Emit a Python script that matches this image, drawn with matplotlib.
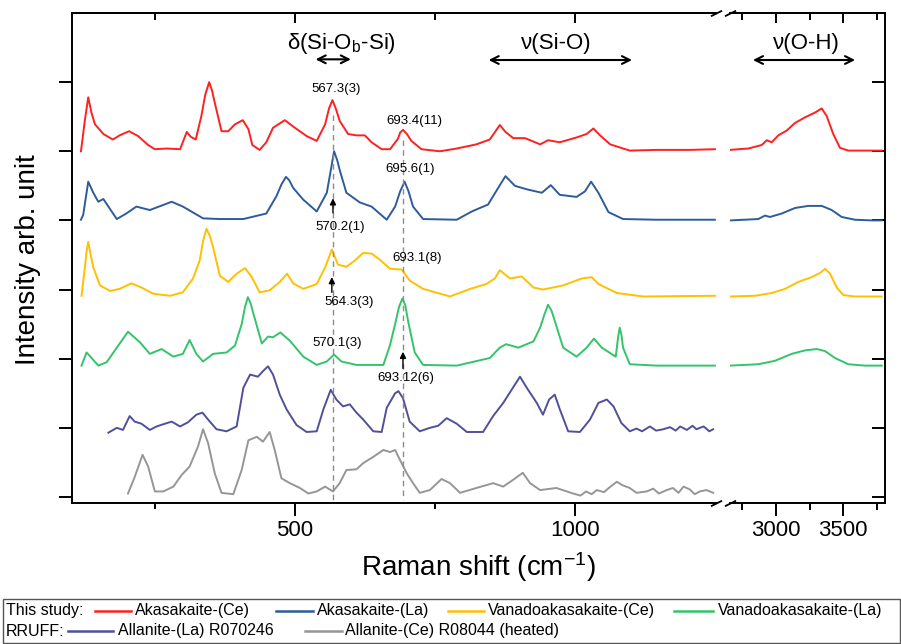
import matplotlib.pyplot as plt
from matplotlib.patches import Rectangle
from matplotlib.lines import Line2D

plt.rcParams['font.family'] = ['Liberation Sans', 'DejaVu Sans']
plt.rcParams['mathtext.default'] = 'regular'

names = ['Akasakaite-(Ce)', 'Akasakaite-(La)', 'Vanadoakasakaite-(Ce)',
         'Vanadoakasakaite-(La)', 'Allanite-(La) R070246', 'Allanite-(Ce) R08044 (heated)']
colors = ['#ff2020', '#2e5c9a', '#ffc000', '#33c46a', '#50509a', '#969696']
offsets = [5.0, 4.0, 2.9, 1.9, 0.93, 0.0]

# low wavenumber part (cm-1), normalised intensity
red_x = [118, 125, 131, 137, 143, 158, 175, 187, 204, 220, 238, 250, 271, 295, 307, 314, 323, 333, 340, 347,
         352, 357, 369, 381, 393, 407, 417, 424, 437, 449, 461, 482, 500, 521, 539, 554, 561, 567, 573, 580,
         595, 610, 625, 637, 655, 670, 684, 688, 693, 700, 708, 726, 759, 789, 824, 848, 866, 876, 890, 911,
         938, 952, 973, 1003, 1021, 1033, 1045, 1063, 1098, 1146, 1205, 1250]
red_y = [0.00, 0.45, 0.78, 0.55, 0.39, 0.25, 0.17, 0.23, 0.29, 0.22, 0.09, 0.03, 0.04, 0.03, 0.28, 0.21, 0.17,
         0.51, 0.82, 1.00, 0.88, 0.70, 0.29, 0.29, 0.39, 0.45, 0.32, 0.09, 0.02, 0.13, 0.34, 0.45, 0.34, 0.22,
         0.15, 0.39, 0.62, 0.74, 0.62, 0.44, 0.25, 0.23, 0.23, 0.13, 0.03, 0.03, 0.18, 0.27, 0.31, 0.25, 0.15,
         0.03, 0.00, 0.04, 0.10, 0.17, 0.38, 0.28, 0.19, 0.19, 0.10, 0.16, 0.13, 0.20, 0.25, 0.33, 0.23, 0.10,
         0.01, 0.02, 0.02, 0.03]

blue_x = [118, 122, 131, 140, 149, 158, 167, 182, 199, 217, 241, 280, 300, 336, 366, 408, 449, 467, 476, 484,
          490, 497, 515, 539, 557, 564, 570, 576, 580, 592, 616, 637, 664, 679, 688, 696, 703, 711, 729, 789,
          816, 845, 863, 876, 893, 914, 941, 957, 973, 1003, 1018, 1029, 1042, 1060, 1086, 1146, 1250]
blue_y = [0.01, 0.08, 0.56, 0.40, 0.27, 0.31, 0.20, 0.02, 0.10, 0.20, 0.15, 0.27, 0.20, 0.03, 0.02, 0.02, 0.10,
          0.35, 0.52, 0.63, 0.58, 0.47, 0.30, 0.13, 0.40, 0.72, 1.00, 0.86, 0.73, 0.40, 0.26, 0.20, 0.01, 0.20,
          0.42, 0.56, 0.42, 0.20, 0.02, 0.01, 0.13, 0.23, 0.47, 0.64, 0.50, 0.45, 0.40, 0.51, 0.37, 0.34, 0.42,
          0.56, 0.40, 0.12, 0.02, 0.01, 0.01]

yellow_x = [119, 125, 128, 131, 135, 140, 152, 170, 187, 208, 226, 247, 277, 300, 318, 330, 336, 342, 348, 354,
            366, 381, 396, 411, 423, 437, 455, 473, 486, 497, 515, 539, 554, 566, 577, 592, 607, 622, 637, 652,
            670, 691, 705, 729, 777, 813, 842, 857, 866, 884, 905, 926, 943, 979, 1012, 1030, 1042, 1075, 1122,
            1250]
yellow_y = [0.01, 0.42, 0.65, 0.79, 0.62, 0.42, 0.16, 0.08, 0.11, 0.19, 0.13, 0.04, 0.01, 0.06, 0.26, 0.52,
            0.80, 0.98, 0.88, 0.71, 0.30, 0.21, 0.33, 0.41, 0.28, 0.06, 0.09, 0.21, 0.33, 0.19, 0.11, 0.18,
            0.42, 0.68, 0.46, 0.43, 0.52, 0.63, 0.62, 0.53, 0.40, 0.39, 0.23, 0.11, 0.00, 0.11, 0.18, 0.26,
            0.38, 0.26, 0.29, 0.13, 0.10, 0.16, 0.26, 0.28, 0.18, 0.05, 0.00, 0.01]

green_x = [119, 128, 137, 149, 164, 182, 202, 223, 241, 262, 283, 300, 312, 324, 336, 354, 378, 393, 405, 411,
           416, 421, 426, 441, 452, 461, 474, 491, 515, 539, 557, 570, 583, 610, 658, 670, 679, 686, 692, 697,
           702, 714, 729, 789, 848, 866, 877, 899, 926, 938, 946, 952, 958, 964, 979, 1003, 1021, 1034, 1048,
           1073, 1077, 1080, 1083, 1086, 1098, 1146, 1250]
green_y = [0.00, 0.19, 0.11, 0.00, 0.05, 0.26, 0.49, 0.34, 0.17, 0.24, 0.13, 0.17, 0.37, 0.17, 0.06, 0.17,
           0.19, 0.29, 0.60, 0.85, 0.99, 0.90, 0.75, 0.32, 0.42, 0.41, 0.48, 0.36, 0.13, 0.01, 0.06, 0.16,
           0.06, 0.01, 0.01, 0.30, 0.60, 0.85, 0.97, 0.88, 0.65, 0.19, 0.01, 0.00, 0.11, 0.26, 0.31, 0.26,
           0.35, 0.55, 0.75, 0.88, 0.80, 0.65, 0.26, 0.13, 0.26, 0.39, 0.26, 0.13, 0.40, 0.55, 0.45, 0.26,
           0.02, 0.00, 0.00]

purple_x = [167, 182, 193, 205, 214, 226, 241, 253, 268, 280, 295, 309, 324, 335, 345, 360, 378, 396, 408, 420,
            434, 443, 452, 461, 473, 485, 503, 521, 539, 551, 564, 574, 586, 598, 610, 622, 640, 655, 664, 679,
            685, 693, 705, 723, 741, 756, 771, 789, 807, 836, 854, 872, 887, 902, 914, 932, 943, 954, 964, 973,
            988, 1009, 1027, 1042, 1057, 1069, 1083, 1098, 1110, 1120, 1134, 1145, 1158, 1170, 1180, 1188, 1200,
            1210, 1217, 1230, 1240, 1247]
purple_y = [0.00, 0.07, 0.04, 0.24, 0.16, 0.13, 0.04, 0.09, 0.13, 0.16, 0.09, 0.15, 0.26, 0.29, 0.19, 0.05,
            0.02, 0.09, 0.65, 0.84, 0.81, 0.89, 0.96, 0.84, 0.55, 0.34, 0.11, 0.01, 0.02, 0.34, 0.62, 0.48,
            0.38, 0.41, 0.29, 0.19, 0.02, 0.01, 0.36, 0.57, 0.60, 0.50, 0.16, 0.02, 0.07, 0.10, 0.21, 0.13,
            0.01, 0.01, 0.24, 0.43, 0.62, 0.81, 0.65, 0.43, 0.26, 0.48, 0.55, 0.34, 0.02, 0.01, 0.19, 0.43,
            0.48, 0.38, 0.14, 0.02, 0.06, 0.02, 0.09, 0.03, 0.05, 0.08, 0.03, 0.09, 0.04, 0.10, 0.05, 0.09,
            0.02, 0.05]

gray_x = [202, 214, 228, 238, 250, 265, 283, 298, 312, 327, 336, 345, 357, 369, 390, 405, 417, 432, 443, 455,
          464, 476, 491, 509, 524, 539, 554, 568, 580, 592, 610, 622, 640, 658, 670, 679, 688, 700, 711, 723,
          741, 762, 777, 795, 824, 854, 872, 890, 907, 920, 938, 967, 997, 1010, 1020, 1030, 1039, 1052, 1062,
          1075, 1085, 1098, 1110, 1128, 1140, 1150, 1164, 1175, 1185, 1194, 1205, 1214, 1223, 1235, 1247]
gray_y = [0.05, 0.29, 0.61, 0.44, 0.08, 0.08, 0.15, 0.32, 0.44, 0.73, 0.98, 0.78, 0.34, 0.06, 0.04, 0.39,
          0.82, 0.87, 0.80, 0.94, 0.68, 0.27, 0.20, 0.13, 0.05, 0.08, 0.15, 0.08, 0.20, 0.39, 0.40, 0.49,
          0.58, 0.68, 0.65, 0.68, 0.53, 0.34, 0.20, 0.06, 0.10, 0.26, 0.20, 0.06, 0.13, 0.20, 0.15, 0.25,
          0.35, 0.20, 0.10, 0.13, 0.05, 0.02, 0.08, 0.04, 0.10, 0.07, 0.14, 0.22, 0.17, 0.13, 0.06, 0.08,
          0.12, 0.05, 0.10, 0.13, 0.06, 0.15, 0.11, 0.04, 0.08, 0.10, 0.06]

# O-H stretching part (only this study)
red_oh_x = [2657, 2793, 2893, 2931, 2968, 3017, 3080, 3142, 3216, 3291, 3341, 3378, 3427, 3477, 3539, 3789]
red_oh_y = [0.02, 0.04, 0.09, 0.16, 0.13, 0.23, 0.30, 0.41, 0.49, 0.56, 0.62, 0.51, 0.25, 0.05, 0.01, 0.01]
blue_oh_x = [2657, 2868, 2918, 2955, 3043, 3142, 3241, 3341, 3416, 3490, 3589, 3714, 3789]
blue_oh_y = [0.00, 0.02, 0.07, 0.05, 0.10, 0.18, 0.21, 0.21, 0.15, 0.05, 0.01, 0.00, 0.00]
yellow_oh_x = [2657, 2843, 2968, 3067, 3166, 3266, 3328, 3366, 3403, 3453, 3502, 3589, 3789]
yellow_oh_y = [0.00, 0.01, 0.05, 0.11, 0.21, 0.28, 0.34, 0.40, 0.33, 0.13, 0.02, 0.00, 0.00]
green_oh_x = [2657, 2868, 2993, 3117, 3216, 3304, 3366, 3440, 3539, 3664, 3789]
green_oh_y = [0.00, 0.02, 0.07, 0.17, 0.22, 0.24, 0.21, 0.11, 0.02, 0.00, 0.00]

low = [(red_x, red_y), (blue_x, blue_y), (yellow_x, yellow_y), (green_x, green_y),
       (purple_x, purple_y), (gray_x, gray_y)]
high = [(red_oh_x, red_oh_y), (blue_oh_x, blue_oh_y), (yellow_oh_x, yellow_oh_y), (green_oh_x, green_oh_y)]

# peak labels: (text, x, y) and small arrows (x, y from, y to)
peak_labels = [('567.3(3)', 573, 5.90), ('693.4(11)', 713, 5.44), ('695.6(1)', 705, 4.74),
               ('570.2(1)', 580, 3.90), ('693.1(8)', 718, 3.46), ('564.3(3)', 596, 2.82),
               ('570.1(3)', 575, 2.23), ('693.12(6)', 698, 1.72)]
peak_arrows = [(568, 4.11, 4.32), (566, 2.96, 3.18), (693, 1.86, 2.10)]
dashed = [(567.3, 5.52), (693.4, 5.16)]

W, H = 901, 644
fig = plt.figure(figsize=(W / 100, H / 100), dpi=100)


def box(x0, x1, y0, y1):
    return [x0 / W, 1 - y1 / H, (x1 - x0) / W, (y1 - y0) / H]


ax1 = fig.add_axes(box(72, 716, 13, 503))
ax2 = fig.add_axes(box(730, 885, 13, 503))

for (x, y), c, off in zip(low, colors, offsets):
    ax1.plot(x, [v + off for v in y], color=c, lw=1.4, solid_joinstyle='round')
for (x, y), c, off in zip(high, colors, offsets):
    ax2.plot(x, [v + off for v in y], color=c, lw=1.4, solid_joinstyle='round')

for xd, ytop in dashed:
    ax1.plot([xd, xd], [ytop, -0.04], ls=(0, (4, 3)), color='#8c8c8c', lw=1)

for t, x, y in peak_labels:
    ax1.text(x, y, t, ha='center', va='center', fontsize=9.5)
for x, y0, y1 in peak_arrows:
    ax1.annotate('', xy=(x, y1), xytext=(x, y0),
                 arrowprops=dict(arrowstyle='-|>', color='k', lw=1, mutation_scale=9,
                                 shrinkA=0, shrinkB=0))

for ax in (ax1, ax2):
    ax.set_ylim(-0.087, 7.0)
    ax.set_yticks(range(7))
    for s in ax.spines.values():
        s.set_linewidth(1.4)

ax1.set_xlim(102, 1252)
ax2.set_xlim(2657, 3813)
ax1.spines['right'].set_visible(False)
ax2.spines['left'].set_visible(False)

ax1.set_xticks([500, 1000])
ax1.set_xticks([250, 750], minor=True)
ax2.set_xticks([3000, 3500])
ax2.set_xticks([2750, 3250, 3750], minor=True)
for ax in (ax1, ax2):
    ax.tick_params(axis='x', which='major', direction='out', length=9.4, width=1.4, labelsize=16, pad=3)
    ax.tick_params(axis='x', which='minor', direction='out', length=4, width=1.4)
    top = ax.secondary_xaxis('top')
    top.set_xticks(ax.get_xticks())
    top.set_xticks(ax.get_xticks(minor=True), minor=True)
    top.tick_params(which='major', direction='in', length=7, width=1.4, labeltop=False)
    top.tick_params(which='minor', direction='in', length=5, width=1.4)
    top.spines['top'].set_linewidth(1.4)
ax1.tick_params(axis='y', direction='out', length=9.4, width=1.4, labelleft=False)
ax2.tick_params(axis='y', left=False, right=True, direction='in', length=9.4, width=1.4,
                labelleft=False, labelright=False)
ax2.tick_params(axis='x', which='minor', length=5)

# axis break marks
brk = dict(marker=[(-1, -0.5), (1, 0.5)], markersize=8, linestyle='none', color='k',
           mec='k', mew=1.3, clip_on=False)
ax1.plot([1, 1], [0, 1], transform=ax1.transAxes, **brk)
ax2.plot([0, 0], [0, 1], transform=ax2.transAxes, **brk)

# band assignments
arr = dict(arrowstyle='<->', color='k', lw=1.5, mutation_scale=14, shrinkA=0, shrinkB=0)
ax1.text(584, 6.56, 'δ(Si-O$_b$-Si)', ha='center', va='center', fontsize=16)
ax1.annotate('', xy=(537, 6.33), xytext=(600, 6.33), arrowprops=arr)
ax1.text(966, 6.56, 'ν(Si-O)', ha='center', va='center', fontsize=16)
ax1.annotate('', xy=(846, 6.32), xytext=(1102, 6.32), arrowprops=arr)
ax2.text(3224, 6.56, 'ν(O-H)', ha='center', va='center', fontsize=16)
ax2.annotate('', xy=(2828, 6.32), xytext=(3590, 6.32), arrowprops=arr)

fig.text(478 / W, 1 - 567 / H, 'Raman shift (cm$^{-1}$)', ha='center', va='center', fontsize=20)
fig.text(28 / W, 1 - 260 / H, 'Intensity arb. unit', ha='center', va='center', rotation=90, fontsize=20)

# legend box drawn by hand, two rows
fig.add_artist(Rectangle((3 / W, 1 / H), 897 / W, 44 / H, transform=fig.transFigure,
                         fill=False, lw=1, ec='#555555'))
rows = [(611, 'This study:', [(95, 131, 135, 0), (276, 313, 317, 1), (448, 484, 488, 2), (674, 713, 718, 3)]),
        (631, 'RRUFF:', [(68, 113, 118, 4), (305, 342, 345, 5)])]
for py, head, entries in rows:
    yf = 1 - py / H
    fig.text(6 / W, yf, head, ha='left', va='center', fontsize=11.5)
    for l0, l1, tx, i in entries:
        fig.add_artist(Line2D([l0 / W, l1 / W], [yf, yf], color=colors[i], lw=1.8,
                              transform=fig.transFigure))
        fig.text(tx / W, yf, names[i], ha='left', va='center', fontsize=11.5)

fig.savefig('out.png', dpi=100)
